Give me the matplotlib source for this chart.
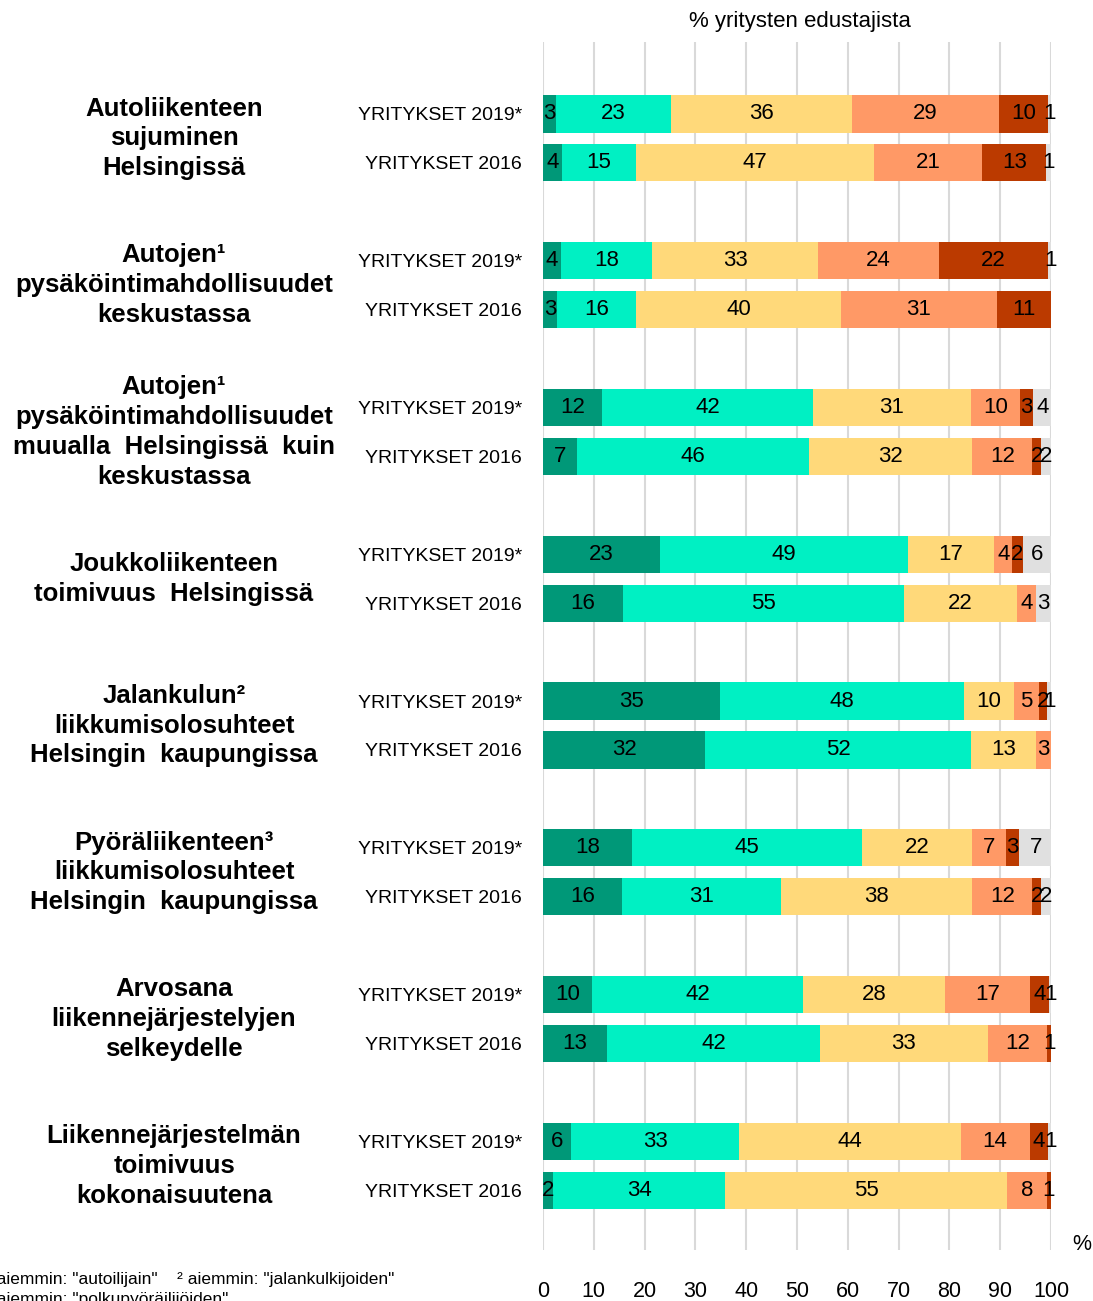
import matplotlib
matplotlib.use("Agg")
import matplotlib.pyplot as plt
import matplotlib.transforms as mtransforms
import numpy as np

plt.rcParams['font.family'] = ['Liberation Sans', 'DejaVu Sans']

# question groups (left labels)
groups = [
    "Autoliikenteen\nsujuminen\nHelsingissä",
    "Autojen¹\npysäköintimahdollisuudet\nkeskustassa",
    "Autojen¹\npysäköintimahdollisuudet\nmuualla  Helsingissä  kuin\nkeskustassa",
    "Joukkoliikenteen\ntoimivuus  Helsingissä",
    "Jalankulun²\nliikkumisolosuhteet\nHelsingin  kaupungissa",
    "Pyöräliikenteen³\nliikkumisolosuhteet\nHelsingin  kaupungissa",
    "Arvosana\nliikennejärjestelyjen\nselkeydelle",
    "Liikennejärjestelmän\ntoimivuus\nkokonaisuutena",
]
rows = ["YRITYKSET 2019*", "YRITYKSET 2016"]

# shares per answer class, two rows (2019, 2016) per group
very_good = [2.6, 3.7, 3.6, 2.8, 11.6, 6.7, 23.0, 15.7, 34.8, 31.9, 17.6, 15.6, 9.6, 12.6, 5.6, 1.9]
good      = [22.6, 14.6, 17.8, 15.6, 41.6, 45.6, 48.8, 55.3, 48.0, 52.4, 45.1, 31.2, 41.6, 42.0, 33.0, 34.0]
neutral   = [35.7, 46.9, 32.8, 40.2, 31.0, 32.2, 17.0, 22.4, 9.9, 12.8, 21.8, 37.7, 28.0, 32.9, 43.6, 55.4]
bad       = [28.8, 21.3, 23.7, 30.8, 9.7, 11.8, 3.6, 3.6, 5.0, 2.9, 6.6, 11.8, 16.6, 11.8, 13.6, 7.9]
very_bad  = [9.7, 12.6, 21.6, 10.6, 2.6, 1.8, 2.0, 0.0, 1.6, 0.0, 2.6, 1.8, 3.8, 0.7, 3.7, 0.8]
no_answer = [0.6, 0.9, 0.6, 0.0, 3.6, 1.9, 5.6, 3.0, 0.7, 0.0, 6.6, 1.9, 0.6, 0.0, 0.6, 0.0]

series = [very_good, good, neutral, bad, very_bad, no_answer]
colors = ["#009878", "#00F0C3", "#FFD97A", "#FF9966", "#BB3A00", "#E0E0E0"]

ypos = []
for g in range(len(groups)):
    ypos += [3 * g, 3 * g + 1]
ypos = np.array(ypos)

fig = plt.figure(figsize=(10.93, 13.01), dpi=100)
ax = fig.add_axes([0.4968, 0.0392, 0.4648, 0.9285])

left = np.zeros(len(ypos))
for vals, col in zip(series, colors):
    vals = np.array(vals)
    ax.barh(ypos, vals, left=left, height=0.76, color=col, zorder=2)
    for y, l, v in zip(ypos, left, vals):
        if v > 0:
            ax.text(l + v / 2, y, f"{v:.0f}", ha='center', va='center',
                    fontsize=16, color='black', zorder=3)
    left += vals

ax.set_xlim(0, 100)
ax.set_ylim(23.22, -1.47)
ax.set_xticks(np.arange(0, 101, 10))
ax.grid(axis='x', color='#D9D9D9', linewidth=1.5, zorder=0)
ax.set_axisbelow(True)
for s in ax.spines.values():
    s.set_visible(False)
ax.tick_params(axis='x', length=0, pad=22, labelsize=15.5)
ax.set_yticks(ypos)
ax.set_yticklabels(rows * len(groups), fontsize=14)
ax.tick_params(axis='y', length=0, pad=15)

trans = mtransforms.blended_transform_factory(fig.transFigure, ax.transData)
for g, name in enumerate(groups):
    ax.text(174 / 1093, 3 * g + 0.5, name, transform=trans, ha='center', va='center',
            fontsize=18.5, fontweight='bold', linespacing=1.3)

fig.text(800 / 1093, 1 - 22 / 1301, "% yritysten edustajista", ha='center', va='center',
         fontsize=16)
fig.text(1082 / 1093, 1 - 1245 / 1301, "%", ha='center', va='center', fontsize=15.5)
fig.text(-14 / 1093, 1 - 1279 / 1301,
         '¹ aiemmin: "autoilijain"    ² aiemmin: "jalankulkijoiden"',
         ha='left', va='center', fontsize=12.5)
fig.text(-14 / 1093, 1 - 1299 / 1301, '³ aiemmin: "polkupyöräilijöiden"',
         ha='left', va='center', fontsize=12.5)

fig.savefig("out.png", dpi=100)
